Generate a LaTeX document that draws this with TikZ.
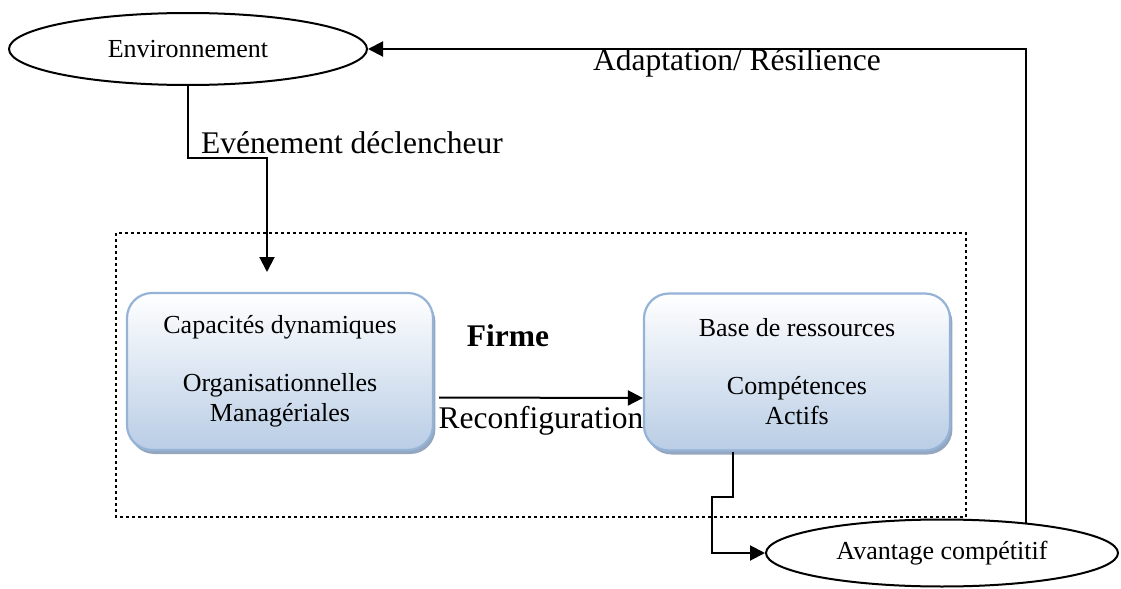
\documentclass[tikz,border=0pt]{standalone}
\usepackage{fontspec}
\setmainfont{Liberation Serif}
\usetikzlibrary{arrows.meta, shapes.geometric, shadows}
\definecolor{boxline}{HTML}{95B3D7}
\definecolor{boxfill}{HTML}{B9CDE5}
\definecolor{boxshade}{HTML}{8A9DB8}

\tikzset{
  oval/.style={draw, ellipse, inner sep=0pt, line width=1pt,
    font=\fontsize{13}{15}\selectfont},
  capbox/.style={draw=boxline, line width=1.1pt, rounded corners=12.5pt,
    top color=white, bottom color=boxfill, align=center,
    minimum width=153pt, minimum height=78.5pt, inner sep=0pt,
    font=\fontsize{13}{15}\selectfont,
    drop shadow={shadow xshift=1.2pt, shadow yshift=-2pt, fill=boxshade, opacity=0.9}},
  biglabel/.style={font=\fontsize{15.75}{18}\selectfont},
}

\begin{document}
\begin{tikzpicture}[x=0.5pt, y=-0.5pt, >={Triangle[length=7.5pt, width=7.5pt]}, line width=1pt]
  \useasboundingbox (0,0) rectangle (1121,589);

  % Environnement et avantage
  \node[oval, minimum width=179pt, minimum height=36pt] (env) at (188,49) {Environnement};
  \node[oval, minimum width=176pt, minimum height=33.5pt] (avant) at (942,553) {Avantage compétitif};

  % Cadre de la firme
  \draw[line width=1pt, dash pattern=on 1.5pt off 1.5pt] (116,233) rectangle (966,517);
  \node[biglabel, font=\fontsize{15.75}{18}\selectfont\bfseries] (firme) at (508,336) {Firme};

  % Capacités et ressources
  \node[capbox] (cap) at (280,371.5) {Capacités dynamiques\\[14pt]Organisationnelles\\Managériales};
  \node[capbox] (res) at (797,372) {Base de ressources\\[14pt]Compétences\\Actifs};

  % Evénement déclencheur
  \coordinate (ev1) at (267,158);
  \coordinate (ev2) at (267,272);
  \draw[->] (env.south) |- (ev1) -- (ev2);
  \node[biglabel] (evlbl) at (352,143) {Evénement déclencheur};

  % Reconfiguration
  \draw[->] ([xshift=2.5pt, yshift=-13pt]cap.east) -- ([yshift=-13pt]res.west)
    node[biglabel, midway, below=4pt, inner sep=0pt] (reconf) {Reconfiguration};

  % Vers l'avantage compétitif
  \coordinate (av1) at (733,497);
  \coordinate (av2) at (712,497);
  \draw[->] (res.south -| av1) -- (av1) -- (av2) |- (avant.west);

  % Retour vers l'environnement
  \draw[->] (avant.20) |- (env.east);
  \node[biglabel] (adlbl) at (737,63) {Adaptation/ Résilience};
\end{tikzpicture}
\end{document}
